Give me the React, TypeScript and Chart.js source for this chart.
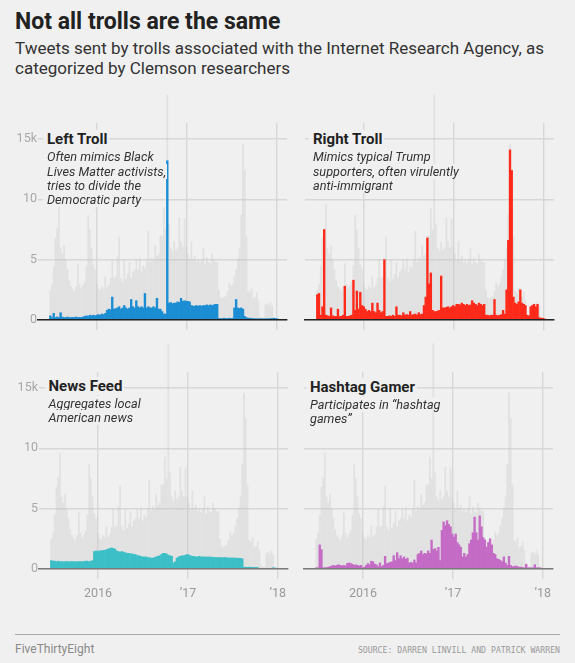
import React, { useEffect, useRef } from "react";
import { Chart, registerables } from "chart.js";

Chart.register(...registerables);
Chart.defaults.font.family = "Roboto";

// x positions are days after 2015-01-01; one value per week
const START_DAY = 175;
const STEP_DAYS = 7;
const X_MIN = 125;
const X_MAX = 1138;
const X_TICKS = [365, 731, 1096];
const X_TICK_LABELS = ["2016", "\u201917", "\u201918"];
const Y_TICKS = [0, 5, 10, 15];
const Y_TICK_LABELS = ["0", "5", "10", "15k"];
const Y_MAX = 16.33;

// thousands of tweets per week-slot, all IRA trolls (grey backdrop)
const TOTAL = [
  2.5, 3.0, 4.5, 6.8, 7.6, 9.6, 6.0, 5.5, 6.2, 5.0,
  4.2, 3.3, 2.8, 2.6, 2.4, 2.8, 4.7, 3.0, 2.6, 2.9,
  3.2, 4.5, 8.7, 7.5, 6.0, 4.6, 4.2, 3.0, 2.6, 2.5,
  2.8, 2.6, 3.6, 2.7, 2.9, 3.5, 5.0, 3.5, 3.6, 5.2,
  6.9, 3.5, 3.2, 5.0, 3.4, 3.8, 4.8, 3.5, 4.0, 4.2,
  5.0, 4.2, 5.1, 4.0, 4.5, 4.3, 5.0, 7.4, 4.8, 5.2,
  5.0, 6.2, 5.3, 5.5, 7.0, 7.0, 9.3, 7.5, 18.7, 8.0,
  6.0, 5.7, 6.5, 5.8, 6.0, 8.5, 6.5, 6.0, 8.4, 6.0,
  5.5, 5.0, 6.5, 5.0, 5.3, 4.8, 5.0, 4.7, 5.0, 6.0,
  4.6, 5.2, 4.8, 4.7, 5.5, 5.0, 4.8, 4.8, 2.5, 1.9,
  1.8, 1.9, 2.0, 2.4, 3.1, 2.8, 3.0, 3.6, 4.2, 5.1,
  6.0, 8.7, 14.6, 12.5, 7.0, 2.4, 2.3, 2.6, 1.8, 1.9,
  2.3, 1.6, 0.3, 0.2, 0.2, 1.3, 1.4, 1.2, 1.5, 1.2,
  0.2, 0.1, 0.1,
];

const LEFT_TROLL = [
  0.35, 0.2, 0.55, 0.2, 0.25, 0.2, 0.6, 0.25, 0.2, 0.2,
  0.25, 0.2, 0.2, 0.22, 0.2, 0.25, 0.2, 0.22, 0.2, 0.25,
  0.3, 0.35, 0.3, 0.4, 0.35, 0.4, 0.35, 0.4, 0.45, 0.4,
  0.5, 0.45, 0.55, 0.8, 0.9, 0.85, 1.9, 0.9, 0.95, 1.0,
  1.1, 0.9, 1.0, 1.2, 1.0, 0.9, 1.0, 1.7, 1.1, 1.0,
  1.6, 1.1, 1.0, 1.1, 1.0, 2.2, 1.0, 1.1, 1.0, 1.0,
  1.1, 1.0, 1.8, 0.9, 0.9, 0.7, 0.5, 0.5, 13.2, 1.4,
  1.45, 1.35, 1.4, 1.4, 1.5, 1.45, 1.8, 1.55, 1.6, 1.55,
  1.55, 1.5, 1.2, 1.15, 1.15, 1.2, 1.15, 1.2, 1.15, 1.2,
  1.2, 1.25, 1.2, 1.25, 1.2, 1.25, 1.3, 1.3, 0.12, 0.12,
  0.12, 0.15, 0.12, 0.12, 0.15, 0.12, 0.15, 1.0, 1.7, 1.0,
  0.95, 1.0, 0.9, 0.3, 0.2, 0.15, 0.15, 0.12, 0.12, 0.1,
  0.1, 0.1, 0.1, 0.1, 0.1, 0.1, 0.1, 0.1, 0.12, 0.12,
  0.15, 0.12, 0.1,
];

const RIGHT_TROLL = [
  2.1, 2.2, 0.4, 1.1, 7.5, 0.4, 0.35, 0.3, 1.0, 0.35,
  0.3, 0.3, 0.9, 0.3, 0.3, 0.4, 2.8, 0.3, 0.3, 0.35,
  0.4, 3.3, 0.8, 2.4, 0.9, 2.3, 1.2, 1.1, 0.9, 0.7,
  0.8, 0.7, 1.4, 0.7, 0.6, 1.4, 0.8, 0.6, 0.7, 5.0,
  0.3, 0.3, 0.35, 0.3, 0.4, 0.3, 1.1, 0.4, 0.4, 0.35,
  0.6, 0.4, 0.45, 0.4, 0.7, 0.4, 0.45, 0.5, 0.4, 0.6,
  0.45, 0.5, 1.2, 1.9, 6.8, 3.0, 3.9, 0.8, 0.7, 0.7,
  0.75, 0.8, 3.65, 1.0, 1.0, 1.05, 1.1, 1.0, 1.1, 1.2,
  1.1, 1.3, 1.3, 1.25, 1.4, 1.3, 1.2, 1.3, 1.2, 1.25,
  1.6, 1.4, 1.3, 1.2, 1.4, 1.3, 1.2, 1.3, 0.4, 0.4,
  0.35, 0.4, 0.4, 1.7, 0.4, 0.35, 0.4, 0.45, 0.8, 0.5,
  2.5, 6.6, 14.1, 12.4, 1.9, 1.4, 1.3, 1.5, 2.5, 1.4,
  1.3, 1.2, 0.4, 0.35, 1.1, 1.2, 1.3, 1.1, 1.3, 0.2,
  0.15, 0.15, 0.1,
];

const NEWS_FEED = [
  0.7, 0.65, 0.65, 0.6, 0.65, 0.6, 0.62, 0.6, 0.6, 0.62,
  0.6, 0.6, 0.62, 0.6, 0.6, 0.6, 0.62, 0.62, 0.6, 0.62,
  0.65, 0.65, 0.6, 0.65, 0.7, 1.45, 1.5, 1.45, 1.5, 1.5,
  1.55, 1.55, 1.6, 1.65, 1.7, 1.75, 1.7, 1.65, 1.5, 1.45,
  1.4, 1.45, 1.4, 1.35, 1.3, 1.3, 1.25, 1.25, 1.2, 1.2,
  1.1, 1.1, 1.05, 1.0, 1.0, 1.0, 0.95, 0.95, 0.9, 0.9,
  0.95, 1.0, 1.05, 1.1, 1.2, 1.3, 1.3, 1.25, 1.15, 1.1,
  1.05, 0.5, 0.6, 0.9, 1.0, 1.05, 1.1, 1.1, 1.15, 1.2,
  1.15, 1.1, 1.05, 1.05, 1.0, 1.0, 1.05, 1.0, 1.0, 1.0,
  1.0, 0.98, 1.0, 0.98, 0.95, 0.97, 0.95, 0.95, 0.95, 0.95,
  0.93, 0.95, 0.93, 0.9, 0.92, 0.9, 0.92, 0.9, 0.9, 0.88,
  0.88, 0.85, 0.15, 0.15, 0.14, 0.15, 0.14, 0.14, 0.13, 0.13,
  0.12, 0.05, 0.05, 0.05, 0.05, 0.05, 0.05, 0.05, 0.06, 0.1,
  0.08, 0.05, 0.03,
];

const HASHTAG_GAMER = [
  0.1, 0.1, 2.0, 1.6, 0.1, 0.1, 0.12, 0.15, 0.2, 0.25,
  0.3, 0.25, 0.3, 0.35, 0.3, 0.25, 0.3, 0.25, 0.45, 0.5,
  0.45, 0.4, 0.3, 0.35, 0.3, 0.25, 0.3, 0.1, 0.15, 0.3,
  0.45, 0.35, 0.65, 0.6, 0.4, 0.35, 0.2, 0.5, 0.2, 0.3,
  1.05, 0.45, 0.5, 0.55, 0.6, 1.1, 0.7, 1.35, 0.85, 1.1,
  0.85, 1.0, 0.8, 0.9, 0.5, 0.55, 0.5, 0.75, 0.5, 1.2,
  1.3, 1.5, 1.2, 1.3, 1.25, 1.5, 1.3, 2.4, 1.6, 1.7,
  1.5, 1.8, 0.7, 3.2, 3.9, 3.6, 4.0, 3.7, 3.5, 2.9,
  2.65, 2.9, 2.2, 2.0, 1.8, 1.0, 1.3, 1.0, 1.2, 2.1,
  2.4, 3.0, 4.3, 3.0, 2.4, 4.4, 3.5, 2.6, 2.4, 1.8,
  2.2, 2.5, 2.0, 1.3, 1.2, 0.85, 0.8, 0.7, 0.6, 1.0,
  0.5, 0.3, 1.05, 0.3, 0.2, 0.2, 0.25, 0.2, 0.15, 0.15,
  0.12, 0.1, 0.4, 0.1, 0.1, 0.1, 0.1, 0.35, 0.1, 0.1,
  0.1, 0.05, 0.05,
];

const BG = "#f0f0f0";
const GRID = "#d7d7d7";
const GREY_BARS = "rgba(200,200,200,0.36)";

type Pos = {
  left: number;
  top: number;
  width: number;
  height: number;
  pad: { top: number; left: number; right: number; bottom: number };
};

function toPoints(values: number[]) {
  return values.map((v, i) => ({ x: START_DAY + STEP_DAYS * i, y: v }));
}

function Panel(props: {
  values: number[];
  color: string;
  pos: Pos;
  yLabels: boolean;
  xLabels: boolean;
  baseColor: string;
}) {
  const ref = useRef<HTMLCanvasElement>(null);
  const { values, color, pos, yLabels, xLabels, baseColor } = props;
  useEffect(() => {
    const barOpts = {
      grouped: false,
      barPercentage: 1,
      categoryPercentage: 1,
      borderWidth: 0,
    };
    const chart = new Chart(ref.current as HTMLCanvasElement, {
      type: "bar",
      data: {
        datasets: [
          {
            data: toPoints(values),
            backgroundColor: color,
            order: 1,
            ...barOpts,
          } as any,
          {
            data: toPoints(TOTAL),
            backgroundColor: GREY_BARS,
            order: 2,
            clip: false,
            inflateAmount: 0,
            ...barOpts,
          } as any,
        ],
      },
      options: {
        animation: false,
        responsive: false,
        maintainAspectRatio: false,
        events: [],
        layout: { padding: pos.pad },
        plugins: { legend: { display: false }, tooltip: { enabled: false } },
        scales: {
          x: {
            type: "linear",
            min: X_MIN,
            max: X_MAX,
            offset: false,
            grid: {
              offset: false,
              color: GRID,
              lineWidth: 1.4,
              drawTicks: true,
              tickLength: 10,
              tickColor: GRID,
            },
            border: { display: true, color: baseColor, width: 1.6, z: 1 },
            afterBuildTicks: (s: any) => {
              s.ticks = X_TICKS.map((v) => ({ value: v }));
            },
            ticks: {
              display: xLabels,
              autoSkip: false,
              maxRotation: 0,
              padding: 7,
              color: "#9a9a9a",
              font: { size: 12.5, family: "Roboto" },
              callback: (_v: any, i: number) => X_TICK_LABELS[i],
            },
            afterFit: (s: any) => {
              s.height = xLabels ? 32 : 10;
              s.paddingLeft = 0;
              s.paddingRight = 0;
            },
          } as any,
          y: {
            type: "linear",
            min: 0,
            max: Y_MAX,
            grid: { color: GRID, lineWidth: 1.4, drawTicks: false },
            border: { display: false },
            afterBuildTicks: (s: any) => {
              s.ticks = Y_TICKS.map((v) => ({ value: v }));
            },
            ticks: {
              display: yLabels,
              padding: 1,
              color: "#a8a8a8",
              font: { size: 12.5, family: "Roboto" },
              callback: (_v: any, i: number) => Y_TICK_LABELS[i],
            },
            afterFit: (s: any) => {
              s.width = yLabels ? 38 : 0;
              s.paddingTop = 0;
              s.paddingBottom = 0;
            },
          } as any,
        },
      },
    });
    return () => chart.destroy();
  }, []);
  return (
    <canvas
      ref={ref}
      width={pos.width}
      height={pos.height}
      style={{
        position: "absolute",
        left: pos.left,
        top: pos.top,
        width: pos.width,
        height: pos.height,
      }}
    />
  );
}

const boxStyle: React.CSSProperties = {
  background: BG,
  padding: "0 1px 0 4px",
};

function Label(props: {
  left: number;
  titleTop: number;
  subTop: number;
  title: string;
  lines: string[];
}) {
  const { left, titleTop, subTop, title, lines } = props;
  return (
    <>
      <div
        style={{
          position: "absolute",
          left: left - 4,
          top: titleTop,
          font: "700 15px/15px Roboto",
          color: "#222",
          whiteSpace: "nowrap",
        }}
      >
        <span style={{ ...boxStyle, padding: "0 2px 0 4px" }}>{title}</span>
      </div>
      <div
        style={{
          position: "absolute",
          left: left - 4,
          top: subTop,
          font: "italic 400 12.7px/14.3px Roboto",
          color: "#333",
          whiteSpace: "nowrap",
        }}
      >
        {lines.map((l, i) => (
          <React.Fragment key={i}>
            <span style={boxStyle}>{l}</span>
            <br />
          </React.Fragment>
        ))}
      </div>
    </>
  );
}

const POS_TL: Pos = { left: 0, top: 83, width: 290, height: 247, pad: { top: 40, left: 0, right: 3, bottom: 0 } };
const POS_TR: Pos = { left: 290, top: 83, width: 270, height: 247, pad: { top: 40, left: 15, right: 6, bottom: 0 } };
const POS_BL: Pos = { left: 0, top: 332, width: 290, height: 269, pad: { top: 40, left: 1, right: 2, bottom: 0 } };
const POS_BR: Pos = { left: 290, top: 332, width: 270, height: 269, pad: { top: 40, left: 14, right: 7, bottom: 0 } };

export default function App() {
  return (
    <div
      style={{
        position: "relative",
        width: 575,
        height: 663,
        background: BG,
        overflow: "hidden",
        fontFamily: "Roboto",
      }}
    >
      <style>{`html,body{margin:0;padding:0;background:${BG};}`}</style>
      <Panel values={LEFT_TROLL} color="#1b8dd3" pos={POS_TL} yLabels={true} xLabels={false} baseColor="#222" />
      <Panel values={RIGHT_TROLL} color="#ff2a1a" pos={POS_TR} yLabels={false} xLabels={false} baseColor="#222" />
      <Panel values={NEWS_FEED} color="#3cbfc7" pos={POS_BL} yLabels={true} xLabels={true} baseColor="#7a7a7a" />
      <Panel values={HASHTAG_GAMER} color="#c46bc6" pos={POS_BR} yLabels={false} xLabels={true} baseColor="#7a7a7a" />

      <div
        style={{
          position: "absolute",
          left: 15,
          top: 10.1,
          font: "700 23px/23px Roboto",
          color: "#222",
          whiteSpace: "nowrap",
        }}
      >
        Not all trolls are the same
      </div>
      <div
        style={{
          position: "absolute",
          left: 15,
          top: 37.7,
          font: "400 17px/20px Roboto",
          color: "#333",
          width: 550,
        }}
      >
        Tweets sent by trolls associated with the Internet Research Agency, as
        <br />
        categorized by Clemson researchers
      </div>

      <Label
        left={47}
        titleTop={132.4}
        subTop={150.4}
        title="Left Troll"
        lines={["Often mimics Black", "Lives Matter activists,", "tries to divide the", "Democratic party"]}
      />
      <Label
        left={313}
        titleTop={132.4}
        subTop={150.4}
        title="Right Troll"
        lines={["Mimics typical Trump", "supporters, often virulently", "anti-immigrant"]}
      />
      <Label
        left={48.5}
        titleTop={379.4}
        subTop={397}
        title="News Feed"
        lines={["Aggregates local", "American news"]}
      />
      <Label
        left={310}
        titleTop={379.8}
        subTop={397.5}
        title="Hashtag Gamer"
        lines={["Participates in \u201chashtag", "games\u201d"]}
      />

      <div style={{ position: "absolute", left: 15, top: 634, width: 545, height: 1, background: "#a8a8a8" }} />
      <div
        style={{
          position: "absolute",
          left: 15,
          top: 642.9,
          font: "400 12px/12px Roboto",
          color: "#8a8a8a",
          whiteSpace: "nowrap",
        }}
      >
        FiveThirtyEight
      </div>
      <div
        style={{
          position: "absolute",
          right: 15,
          top: 645.5,
          font: "400 8.2px/8.2px 'DejaVu Sans Mono'",
          color: "#999",
          whiteSpace: "nowrap",
        }}
      >
        SOURCE: DARREN LINVILL AND PATRICK WARREN
      </div>
    </div>
  );
}
